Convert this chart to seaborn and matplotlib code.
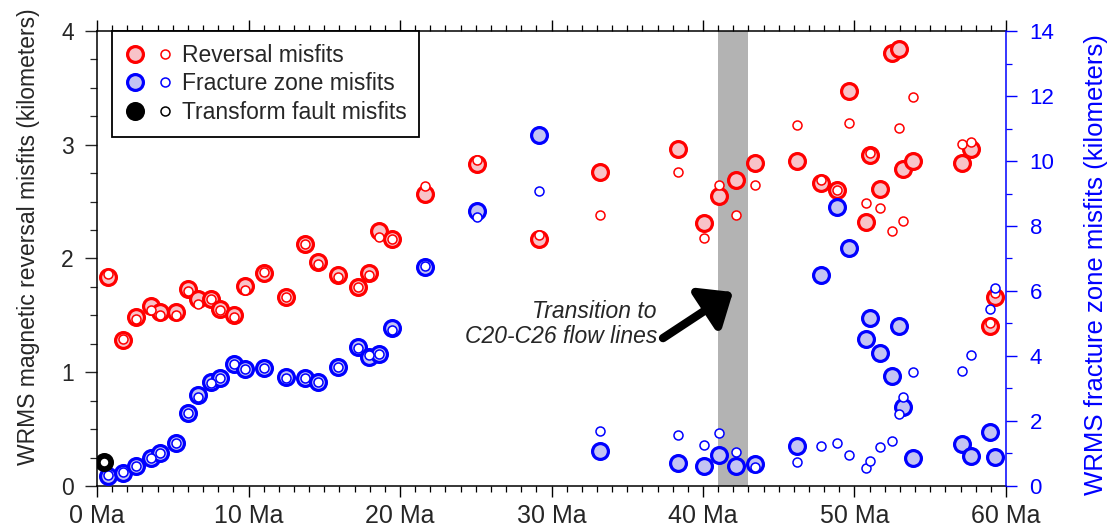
import numpy as np
import pandas as pd
import matplotlib
matplotlib.use("Agg")
import matplotlib.pyplot as plt
from matplotlib.lines import Line2D
from matplotlib.legend_handler import HandlerTuple
from matplotlib.ticker import MultipleLocator
import seaborn as sns

# ---------------- data ----------------
ages = [0.75, 1.74, 2.57, 3.54, 4.16, 5.21, 5.98, 6.69, 7.50, 8.12, 9.04, 9.77,
        11.02, 12.45, 13.73, 14.61, 15.93, 17.20, 17.97, 18.60, 19.50, 21.67,
        25.08, 29.15, 33.20, 38.37, 40.07, 41.06, 42.18, 43.43, 46.22, 47.77,
        48.87, 49.66, 50.74, 51.02, 51.68, 52.50, 52.96, 53.20, 53.88, 57.12,
        57.67, 58.94, 59.25]
rev_large = [1.84, 1.28, 1.49, 1.58, 1.53, 1.53, 1.73, 1.64, 1.64, 1.56, 1.50, 1.76,
             1.875, 1.66, 2.13, 1.97, 1.855, 1.75, 1.87, 2.24, 2.17, 2.57,
             2.83, 2.17, 2.76, 2.96, 2.31, 2.55, 2.69, 2.84, 2.86, 2.66,
             2.60, 3.47, 2.32, 2.91, 2.61, 3.81, 3.84, 2.79, 2.86, 2.84,
             2.96, 1.41, 1.66]
rev_small = [1.86, 1.29, 1.47, 1.55, 1.50, 1.50, 1.71, 1.60, 1.64, 1.55, 1.49, 1.72,
             1.88, 1.66, 2.13, 1.95, 1.84, 1.75, 1.855, 2.19, 2.17, 2.64,
             2.87, 2.21, 2.38, 2.76, 2.18, 2.65, 2.38, 2.65, 3.17, 2.69,
             2.60, 3.19, 2.49, 2.93, 2.44, 2.24, 3.15, 2.33, 3.42, 3.01,
             3.02, 1.43, 1.70]
fz_large = [0.31, 0.41, 0.62, 0.87, 1.00, 1.33, 2.26, 2.80, 3.19, 3.33, 3.74, 3.60,
            3.64, 3.36, 3.31, 3.19, 3.67, 4.29, 3.96, 4.06, 4.87, 6.75,
            8.46, 10.79, 1.09, 0.72, 0.62, 0.95, 0.62, 0.67, 1.23, 6.49,
            8.58, 7.31, 4.51, 5.16, 4.10, 3.38, 4.92, 2.42, 0.85, 1.28,
            0.93, 1.67, 0.90]
fz_small = [0.33, 0.44, 0.62, 0.87, 1.00, 1.33, 2.26, 2.75, 3.16, 3.33, 3.74, 3.60,
            3.64, 3.33, 3.31, 3.19, 3.67, 4.24, 4.03, 4.06, 4.80, 6.78,
            8.29, 9.09, 1.69, 1.57, 1.26, 1.62, 1.04, 0.59, 0.75, 1.23,
            1.33, 0.95, 0.56, 0.77, 1.21, 1.39, 2.21, 2.73, 3.50, 3.55,
            4.03, 5.44, 6.08]
tf_age = [0.46]
tf_value = [0.75]

x_ticks = [0, 10, 20, 30, 40, 50, 60]
x_ticklabels = ["0 Ma", "10 Ma", "20 Ma", "30 Ma", "40 Ma", "50 Ma", "60 Ma"]
left_ticks = [0, 1, 2, 3, 4]
right_ticks = [0, 2, 4, 6, 8, 10, 12, 14]
legend_labels = ["Reversal misfits", "Fracture zone misfits", "Transform fault misfits"]
band = (41.0, 43.0)
note_text = "Transition to\nC20-C26 flow lines"
left_label = "WRMS magnetic reversal misfits (kilometers)"
right_label = "WRMS fracture zone misfits (kilometers)"

rev_df = pd.DataFrame({"age": ages, "large": rev_large, "small": rev_small})
fz_df = pd.DataFrame({"age": ages, "large": fz_large, "small": fz_small})
tf_df = pd.DataFrame({"age": tf_age, "value": tf_value})

# ---------------- style ----------------
sns.set_style("ticks")
plt.rcParams["font.family"] = ["Liberation Sans", "DejaVu Sans"]

RED = "#ff0000"
RED_FILL = "#f8c3c8"
BLUE = "#0000ff"
BLUE_FILL = "#c3c3f3"

S_BIG = 130
LW_BIG = 2.3
S_SMALL = 42
LW_SMALL = 1.1

fig = plt.figure(figsize=(11.09, 5.32), dpi=100)
ax = fig.add_axes([0.0875, 0.0865, 0.8196, 0.8552])
ax2 = ax.twinx()

ax.axvspan(band[0], band[1], color="#b3b3b3", lw=0, zorder=0)

sns.scatterplot(data=rev_df, x="age", y="large", ax=ax, s=S_BIG, color=RED_FILL,
                edgecolor=RED, linewidth=LW_BIG, zorder=3, legend=False)
sns.scatterplot(data=rev_df, x="age", y="small", ax=ax, s=S_SMALL, color="white",
                edgecolor=RED, linewidth=LW_SMALL, zorder=4, legend=False)

sns.scatterplot(data=fz_df, x="age", y="large", ax=ax2, s=S_BIG, color=BLUE_FILL,
                edgecolor=BLUE, linewidth=LW_BIG, zorder=3, legend=False)
sns.scatterplot(data=fz_df, x="age", y="small", ax=ax2, s=S_SMALL, color="white",
                edgecolor=BLUE, linewidth=LW_SMALL, zorder=4, legend=False)
sns.scatterplot(data=tf_df, x="age", y="value", ax=ax2, s=S_BIG, color="black",
                edgecolor="black", linewidth=LW_BIG, zorder=5, legend=False)
sns.scatterplot(data=tf_df, x="age", y="value", ax=ax2, s=S_SMALL, color="white",
                edgecolor="black", linewidth=LW_SMALL, zorder=6, legend=False)

# ---------------- axes ----------------
ax.set_xlim(0, 60)
ax.set_ylim(0, 4)
ax2.set_ylim(0, 14)

ax.set_xticks(x_ticks)
ax.set_xticklabels(x_ticklabels, fontsize=18)
ax.xaxis.set_minor_locator(MultipleLocator(1))
ax.set_yticks(left_ticks)
ax.set_yticklabels([str(v) for v in left_ticks], fontsize=16.5)
ax.yaxis.set_minor_locator(MultipleLocator(0.25))

ax.tick_params(axis="x", which="both", top=True, bottom=True, direction="out", color="black")
ax.tick_params(axis="x", which="major", length=8, width=1.0, pad=5)
ax.tick_params(axis="x", which="minor", length=4.3, width=0.9)
ax.tick_params(axis="y", which="major", length=8.6, width=1.0, pad=8)
ax.tick_params(axis="y", which="minor", length=5, width=0.9)

ax2.set_yticks(right_ticks)
ax2.set_yticklabels([str(v) for v in right_ticks], fontsize=16, color=BLUE)
ax2.yaxis.set_minor_locator(MultipleLocator(1))
ax2.tick_params(axis="y", which="major", length=8, width=1.0, color=BLUE, pad=9)
ax2.tick_params(axis="y", which="minor", length=4.3, width=0.9, color=BLUE)

for sp in ["top", "bottom", "left"]:
    ax.spines[sp].set_color("black")
    ax.spines[sp].set_linewidth(1.1)
ax.spines["right"].set_visible(False)
ax2.spines["right"].set_color(BLUE)
ax2.spines["right"].set_linewidth(1.1)
for sp in ["top", "bottom", "left"]:
    ax2.spines[sp].set_visible(False)

ax.set_xlabel("")
ax.set_ylabel(left_label, fontsize=16.5)
ax.yaxis.set_label_coords(-0.063, 0.549)
ax2.set_ylabel(right_label, fontsize=18.5, color=BLUE)
ax2.yaxis.set_label_coords(1.086, 0.486)

# ---------------- annotation ----------------
ax2.annotate("", xy=(41.98, 1.705 * 3.5), xytext=(37.36, 1.30 * 3.5),
             arrowprops=dict(arrowstyle="-|>,head_length=0.9,head_width=0.75",
                             lw=6, color="black", mutation_scale=20,
                             shrinkA=0, shrinkB=0), zorder=7)
ax2.text(36.96, 1.424 * 3.5, note_text, ha="right", va="center", ma="right",
         fontsize=16.5, style="italic", linespacing=1.15, zorder=7)

# ---------------- legend ----------------
def mk(face, edge, size, lw):
    return Line2D([], [], linestyle="none", marker="o", markersize=size,
                  markerfacecolor=face, markeredgecolor=edge, markeredgewidth=lw)

big_ms = np.sqrt(S_BIG)
small_ms = np.sqrt(S_SMALL)
handles = [
    (mk(RED_FILL, RED, big_ms, LW_BIG), mk("white", RED, small_ms, LW_SMALL)),
    (mk(BLUE_FILL, BLUE, big_ms, LW_BIG), mk("white", BLUE, small_ms, LW_SMALL)),
    (mk("black", "black", big_ms, LW_BIG), mk("white", "black", small_ms, LW_SMALL)),
]
leg = ax2.legend(handles, legend_labels, handler_map={tuple: HandlerTuple(ndivide=None, pad=0.4)},
                 loc="upper left", bbox_to_anchor=(0.0165, 1.0), borderaxespad=0,
                 fontsize=16.5, frameon=True, fancybox=False, framealpha=1,
                 edgecolor="black", handlelength=2.2, handletextpad=0.3,
                 labelspacing=0.25, borderpad=0.55)
leg.get_frame().set_linewidth(1.3)
leg.set_zorder(10)

fig.savefig("out.png", dpi=100)
